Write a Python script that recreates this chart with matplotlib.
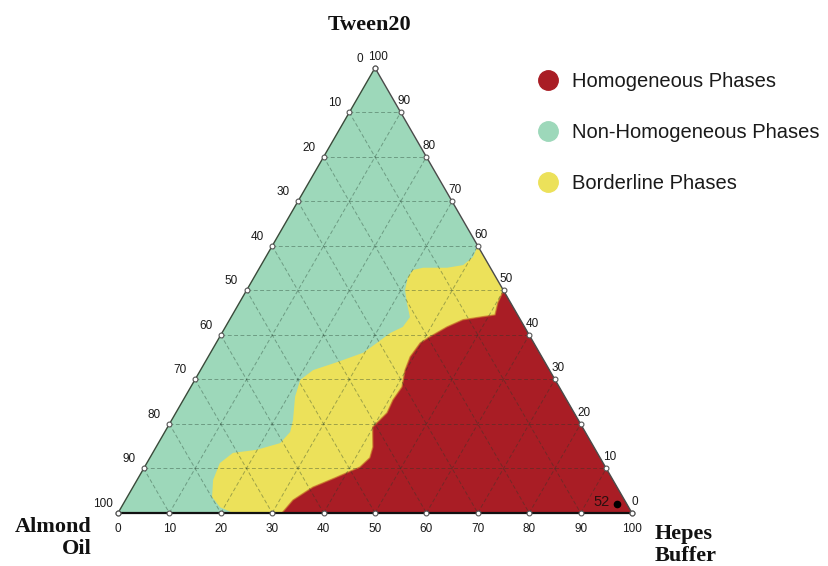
import numpy as np
import matplotlib
matplotlib.use("Agg")
import matplotlib.pyplot as plt
from matplotlib.lines import Line2D

# compositions in % : (Hepes Buffer, Tween20); Almond Oil = 100 - both
green_yellow_hepes = [40, 40.3, 39.3, 36.5, 31.8, 30.1, 29.9, 30.8, 32.6, 34.8, 34.5, 32.7,
                      31.4, 29.7, 25.7, 21.9, 20.5, 21.4, 23.6, 24.4, 23.7, 19.9, 15.6,
                      14.2, 14.8, 16.5, 19.2, 22.4]
green_yellow_tween = [60, 57.5, 55.7, 55.1, 55.1, 54.6, 53.0, 50.1, 47.2, 44.0, 41.8, 40.4,
                      38.4, 36.0, 33.9, 32.1, 29.9, 26.1, 20.9, 18.2, 15.7, 14.2, 13.5,
                      11.2, 7.4, 3.6, 1.3, 0]

red_hepes = [31.9, 32.6, 35.0, 38.3, 41.9, 42.8, 42.2, 39.9, 41.1, 40.8, 41.1, 39.8, 39.3,
             39.7, 40.9, 43.1, 45.4, 48.4, 51.1, 50.3, 50]
red_tween = [0, 2.9, 5.8, 7.9, 10.3, 12.4, 14.8, 19.3, 22.5, 25.4, 28.3, 32.1, 35.1,
             38.2, 39.6, 41.8, 43.4, 44.0, 44.5, 47.2, 50]

point_label = "52"
point_hepes = 96
point_tween = 2

ticks = list(range(0, 101, 10))
phases = ["Homogeneous Phases", "Non-Homogeneous Phases", "Borderline Phases"]
phase_colors = ["#a91d25", "#9dd8ba", "#ece15a"]

H = np.sqrt(3) / 2


def to_xy(hepes, tween):
    hepes = np.asarray(hepes, dtype=float)
    tween = np.asarray(tween, dtype=float)
    return hepes + tween / 2, tween * H


fig = plt.figure(figsize=(8.29, 5.66), dpi=100)
ax = fig.add_axes([0, 0, 1, 1])
s = 5.14  # px per unit
ax.set_xlim(-118 / s, (829 - 118) / s)
ax.set_ylim(-53 / s, 513 / s)
ax.axis("off")

# background: whole triangle non-homogeneous
tx, ty = to_xy([0, 100, 0], [0, 0, 100])
ax.fill(tx, ty, color=phase_colors[1], zorder=1, lw=0)

# borderline region: inside boundary + right edge + base
yh = list(green_yellow_hepes) + [100]
yt = list(green_yellow_tween) + [0]
x, y = to_xy(yh, yt)
ax.fill(x, y, color=phase_colors[2], zorder=2, lw=0)

# homogeneous region
rh = list(red_hepes) + [100]
rt = list(red_tween) + [0]
x, y = to_xy(rh, rt)
ax.fill(x, y, color=phase_colors[0], zorder=3, lw=0)
bx, by = to_xy(red_hepes, red_tween)
ax.plot(bx, by, color="#c8702a", lw=1.0, alpha=0.7, zorder=3, solid_joinstyle="round")

# grid lines
for k in ticks[1:-1]:
    for a, b in [(to_xy([0, 100 - k], [k, k])),
                 (to_xy([k, k], [0, 100 - k])),
                 (to_xy([0, 100 - k], [100 - k, 0]))]:
        ax.plot(a, b, color="#1e3a2a", lw=0.7, alpha=0.38, ls=(0, (4, 2.5)), zorder=4)

# edges
ex, ey = to_xy([0, 100], [0, 0])
ax.plot(ex, ey, color="#111111", lw=1.6, zorder=5)
ex, ey = to_xy([0, 0], [0, 100])
ax.plot(ex, ey, color="#3a4a3a", lw=1.0, zorder=5)
ex, ey = to_xy([100, 0], [0, 100])
ax.plot(ex, ey, color="#4a4a4a", lw=1.0, zorder=5)

# tick markers and labels
tick_font = dict(fontsize=8.5, family="Liberation Sans", color="#1a1a1a")
for k in ticks:
    # bottom: Hepes Buffer
    x, y = to_xy(k, 0)
    ax.plot(x, y, "o", ms=3.5, mfc="white", mec="#555555", mew=0.8, zorder=6)
    ax.text(x, y - 16 / s, str(k), ha="center", va="center", **tick_font)
    # left: Almond Oil
    x, y = to_xy(0, 100 - k)
    ax.plot(x, y, "o", ms=3.5, mfc="white", mec="#555555", mew=0.8, zorder=6)
    ax.text(x - 15 / s, y + 9 / s, str(k), ha="center", va="center", **tick_font)
    # right: Tween20
    x, y = to_xy(100 - k, k)
    ax.plot(x, y, "o", ms=3.5, mfc="white", mec="#555555", mew=0.8, zorder=6)
    ax.text(x + 3 / s, y + 11 / s, str(k), ha="center", va="center", **tick_font)

# marked composition
px, py = to_xy(point_hepes, point_tween)
ax.plot(px, py, "o", color="black", ms=4.5, zorder=7)
ax.text(px - 7 / s, py + 2 / s, point_label, ha="right", va="center",
        fontsize=10.5, family="Liberation Sans", color="#2a1010", zorder=7)

# component labels
lab = dict(fontsize=16, family="Liberation Serif", fontweight="bold", color="#111111")
ax.text(370 / s - 118 / s, (513 - 25) / s, "Tween20", ha="center", va="center", **lab)
ax.text(92 / s - 118 / s, (513 - 538) / s, "Almond\nOil", ha="right", va="center",
        linespacing=1.1, **lab)
ax.text(655 / s - 118 / s, (513 - 545) / s, "Hepes\nBuffer", ha="left", va="center",
        linespacing=1.1, **lab)

handles = [Line2D([], [], marker="o", ls="", ms=14, mfc=c, mec=c) for c in phase_colors]
leg = ax.legend(handles, phases, loc="upper left", bbox_to_anchor=(538 / 829, 1 - 72 / 566),
                bbox_transform=fig.transFigure, frameon=False, borderpad=0, borderaxespad=0,
                handlelength=1.0, handletextpad=0.7, labelspacing=1.58,
                prop={"family": "Liberation Sans", "size": 14.5})
for t in leg.get_texts():
    t.set_color("#1a1a1a")

fig.savefig("out.png", dpi=100)
